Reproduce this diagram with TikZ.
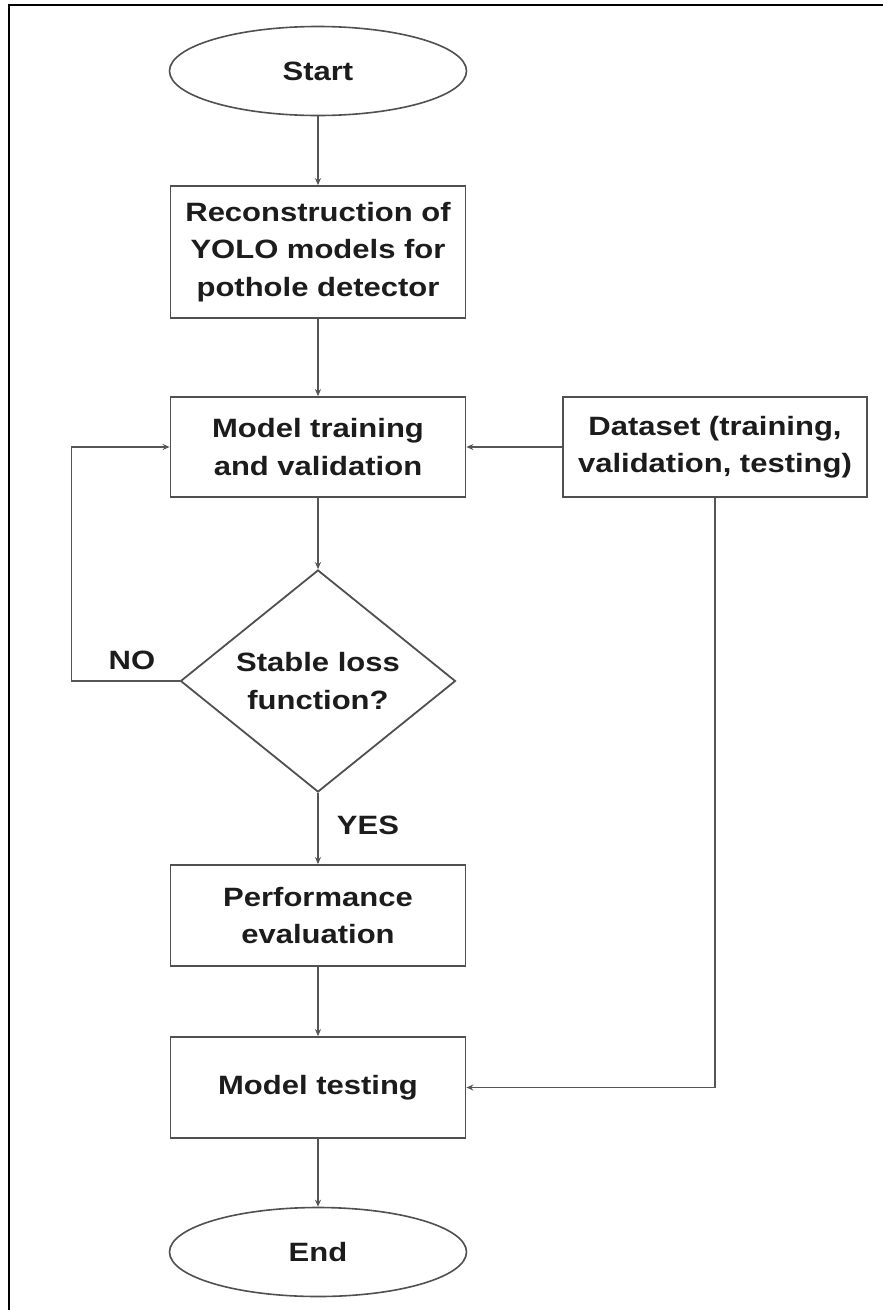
\documentclass[tikz,border=0pt]{standalone}
\usepackage{fontspec}
\setmainfont{Liberation Sans}[FakeStretch=1.17]
\usetikzlibrary{shapes.geometric,arrows.meta}
\definecolor{boxgray}{HTML}{505050}
\definecolor{linegray}{HTML}{555555}
\definecolor{txt}{HTML}{1C1C1C}
\newcommand{\fcfont}{\fontsize{26.5}{37.5}\selectfont\bfseries}
\begin{document}
\begin{tikzpicture}[x=1pt,y=-1pt,
  box/.style={draw=boxgray, line width=1.8pt, minimum width=295pt, inner sep=0pt, align=center, font=\fcfont, text=txt},
  term/.style={ellipse, draw=boxgray, line width=1.6pt, minimum width=297pt, minimum height=89pt, inner sep=0pt, font=\fcfont, text=txt},
  dec/.style={diamond, draw=boxgray, line width=1.8pt, aspect=1.24, minimum width=275pt, minimum height=222pt, inner sep=0pt, align=center, font=\fcfont, text=txt},
  lbl/.style={inner sep=0pt, font=\fcfont, text=txt},
  arr/.style={draw=linegray, line width=1.4pt, -{Stealth[length=7pt,width=6pt]}}
]
\useasboundingbox (0,0) rectangle (883,1310);
\fill[white] (0,0) rectangle (883,1310);
\draw[line width=2.5pt, black] (883,5) -- (9,5) -- (9,1310);

\node[term] (start) at (318,71) {Start};
\node[box, minimum height=132pt] (recon) at (318,252) {Reconstruction of\\YOLO models for\\pothole detector};
\node[box, minimum height=100pt] (train) at (318,447) {Model training\\and validation};
\node[box, minimum width=304pt, minimum height=100pt] (data) at (715,447) {Dataset (training,\\validation, testing)};
\node[dec] (dec) at (318,681) {Stable loss\\function?};
\node[box, minimum height=101pt] (perf) at (318,915.5) {Performance\\evaluation};
\node[box, minimum height=101pt] (test) at (318,1087.5) {Model testing};
\node[term] (end) at (318,1252) {End};

\node[lbl] (no) at (132,660) {NO};
\node[lbl] (yes) at (368,825) {YES};

\draw[arr] (start) -- (recon);
\draw[arr] (recon) -- (train);
\draw[arr] (train) -- (dec);
\draw[arr] (dec) -- (perf);
\draw[arr] (perf) -- (test);
\draw[arr] (test) -- (end);
\draw[arr] (data) -- (train);
\draw[arr] (dec.west) -- ++(-108,0) |- (train.west);
\draw[arr] (data.south) |- (test.east);
\end{tikzpicture}
\end{document}
